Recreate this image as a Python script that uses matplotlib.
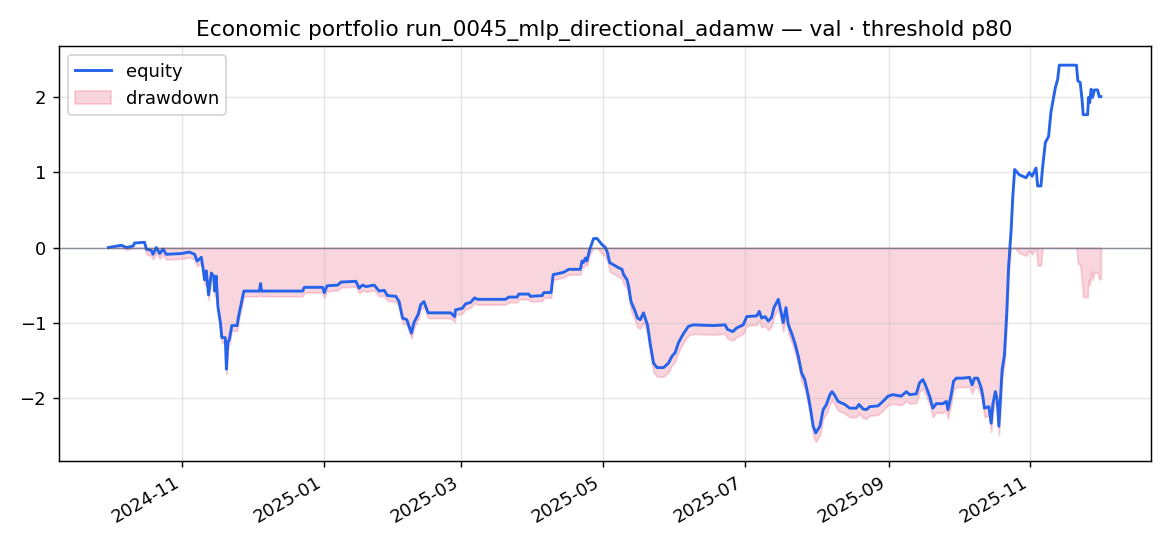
import numpy as np
import pandas as pd
import matplotlib
matplotlib.use("Agg")
import matplotlib.pyplot as plt

# Equity curve: day offset from 2024-11-01, equity value
days = [
    -31.8, -26.2, -24.0, -21.2, -20.5, -16.2, -15.5, -13.3, -12.6, -11.2,
    -9.7, -8.3, -6.9, -0.4, 3.0, 5.3, 6.4, 8.2, 8.9, 9.6,
    10.3, 11.3, 12.5, 13.6, 13.9, 14.6, 15.3, 16.4, 17.0, 18.5,
    19.0, 19.6, 20.3, 21.3, 23.6, 24.2, 25.3, 26.5, 33.2, 33.7,
    34.1, 51.8, 52.5, 60.4, 61.1, 62.3, 66.9, 68.3, 74.7, 76.1,
    77.6, 79.0, 82.6, 84.7, 86.9, 88.3, 91.9, 93.3, 94.8, 96.6,
    97.6, 98.6, 99.7, 101.5, 102.6, 104.0, 105.8, 115.5, 117.2, 117.6,
    120.5, 121.9, 124.1, 125.8, 127.0, 139.1, 140.5, 144.1, 144.8, 149.1,
    149.8, 154.9, 155.6, 158.7, 159.6, 161.3, 164.1, 166.3, 171.3, 172.0,
    172.6, 173.5, 174.1, 175.3, 177.0, 178.5, 180.6, 182.1, 183.0, 183.9,
    185.6, 187.8, 189.2, 189.9, 191.4, 192.1, 193.1, 194.9, 195.9, 197.1,
    198.5, 199.2, 200.2, 201.4, 202.8, 204.3, 207.1, 209.2, 210.7, 212.1,
    213.5, 215.4, 217.8, 220.0, 228.6, 233.6, 234.6, 236.9, 238.6, 241.4,
    242.9, 247.2, 248.3, 249.3, 250.8, 252.2, 253.6, 254.6, 256.5, 257.9,
    258.6, 259.8, 260.8, 262.2, 263.6, 265.1, 266.5, 267.9, 269.4, 270.4,
    271.5, 272.6, 274.4, 275.8, 277.2, 278.7, 279.6, 280.8, 282.2, 285.1,
    287.2, 290.1, 291.2, 292.9, 294.4, 295.8, 299.4, 301.5, 303.7, 305.8,
    309.4, 311.6, 313.0, 315.9, 317.3, 318.7, 319.9, 321.6, 323.0, 324.5,
    327.3, 328.8, 329.5, 330.9, 331.9, 333.1, 335.9, 338.8, 339.9, 340.9,
    342.3, 343.8, 344.5, 345.2, 347.1, 348.1, 348.8, 349.9, 350.7, 351.4,
    352.8, 353.8, 354.8, 355.6, 356.7, 357.4, 358.2, 360.2, 363.1, 364.5,
    365.7, 367.4, 368.1, 369.5, 370.2, 371.4, 372.8, 373.8, 374.8, 375.7,
    376.7, 377.4, 384.8, 385.4, 386.4, 387.2, 387.7, 389.6, 390.0, 390.5,
    391.1, 391.7, 392.5, 393.9, 394.6, 395.3,
]
equity = [
    0.00, 0.03, 0.00, 0.02, 0.06, 0.07, -0.02, -0.04, -0.09, 0.00,
    -0.08, -0.02, -0.09, -0.08, -0.06, -0.09, -0.18, -0.13, -0.27, -0.43,
    -0.31, -0.63, -0.34, -0.39, -0.58, -0.38, -0.78, -1.00, -1.20, -1.20,
    -1.62, -1.27, -1.22, -1.04, -1.04, -0.92, -0.76, -0.58, -0.58, -0.48,
    -0.58, -0.58, -0.53, -0.53, -0.60, -0.51, -0.50, -0.46, -0.45, -0.54,
    -0.50, -0.52, -0.50, -0.58, -0.57, -0.64, -0.65, -0.72, -0.94, -0.96,
    -1.05, -1.14, -1.00, -0.89, -0.76, -0.72, -0.87, -0.87, -0.92, -0.83,
    -0.81, -0.75, -0.73, -0.67, -0.69, -0.69, -0.66, -0.66, -0.62, -0.62,
    -0.65, -0.64, -0.60, -0.60, -0.36, -0.35, -0.33, -0.29, -0.29, -0.18,
    -0.20, -0.14, -0.18, -0.03, 0.12, 0.12, 0.04, 0.00, -0.07, -0.20,
    -0.23, -0.27, -0.29, -0.36, -0.43, -0.52, -0.72, -0.85, -0.94, -0.96,
    -0.87, -0.94, -1.03, -1.29, -1.54, -1.60, -1.60, -1.54, -1.45, -1.40,
    -1.27, -1.16, -1.05, -1.03, -1.04, -1.03, -1.09, -1.12, -1.07, -1.03,
    -0.92, -0.91, -0.85, -0.94, -0.92, -0.98, -0.93, -0.80, -0.69, -0.89,
    -1.00, -0.80, -1.03, -1.14, -1.27, -1.45, -1.67, -1.76, -1.98, -2.16,
    -2.38, -2.47, -2.38, -2.16, -2.09, -1.96, -1.92, -1.97, -2.05, -2.09,
    -2.14, -2.14, -2.09, -2.15, -2.16, -2.12, -2.11, -2.05, -1.98, -1.96,
    -1.98, -1.92, -1.96, -1.95, -1.80, -1.76, -1.84, -1.98, -2.14, -2.08,
    -2.08, -2.05, -2.16, -1.96, -1.78, -1.74, -1.74, -1.73, -1.83, -1.74,
    -1.74, -1.87, -1.98, -2.14, -2.12, -2.34, -2.09, -1.92, -2.03, -2.38,
    -1.63, -1.43, -0.87, -0.25, 0.24, 0.68, 1.04, 0.97, 0.93, 1.00,
    0.95, 1.06, 0.82, 0.82, 1.06, 1.40, 1.48, 1.80, 1.97, 2.13,
    2.24, 2.43, 2.43, 2.22, 2.20, 1.97, 1.77, 1.77, 2.00, 1.93,
    2.11, 2.00, 2.10, 2.10, 2.01, 2.01,
]
start = pd.Timestamp("2024-11-01")
title = "Economic portfolio run_0045_mlp_directional_adamw — val · threshold p80"

dates = start + pd.to_timedelta(days, unit="D")
eq = np.array(equity)
drawdown = eq - np.maximum.accumulate(eq)

fig, ax = plt.subplots(figsize=(9, 4.2), dpi=130)
ax.plot(dates, eq, color="#2563eb", lw=1.6, label="equity")
ax.fill_between(dates, drawdown, 0, color="#e11d48", alpha=0.18, label="drawdown")
ax.axhline(0, color="#475569", lw=0.8, alpha=0.6)
ax.set_title(title)
ax.grid(True, alpha=0.3)
ax.legend(loc="upper left")
fig.autofmt_xdate()
fig.tight_layout()
fig.savefig("out.png")
